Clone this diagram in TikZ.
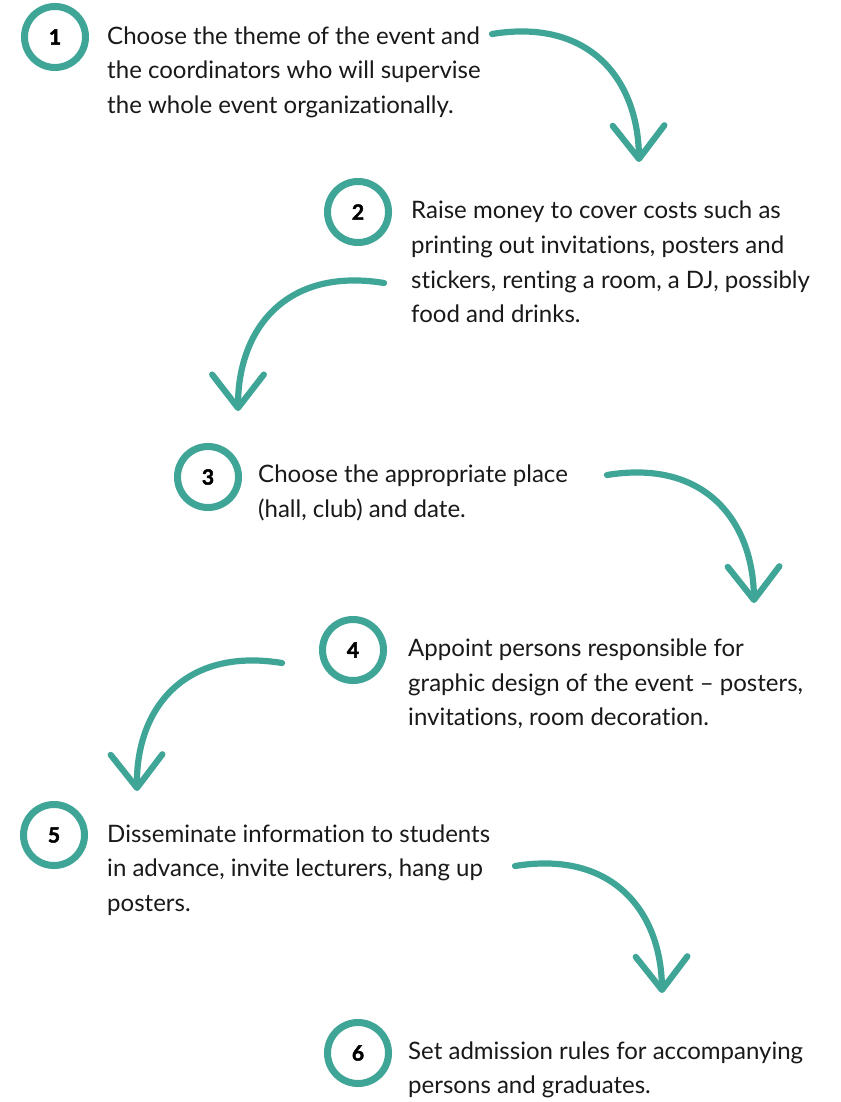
\documentclass[tikz,border=0pt]{standalone}
\usepackage{fontspec}
\setmainfont{Lato}[Ligatures={NoCommon}]
\newfontfamily\numfont{Lato}[BoldFeatures={FakeBold=2}]
\usepackage{xcolor}
\usetikzlibrary{arrows.meta, positioning}

\definecolor{stepteal}{HTML}{3FA597}

\begin{document}
\begin{tikzpicture}[
    x=0.03cm, y=-0.03cm,
    num/.style={circle, draw=stepteal, line width=6pt, minimum size=1.83cm, inner sep=0pt, font=\numfont\fontsize{18}{18}\selectfont\bfseries},
    txt/.style={anchor=west, align=left, inner sep=0pt, text=black!90, font=\fontsize{20.5}{29.5}\selectfont},
    turn/.style={draw=stepteal, line width=5.3pt, line cap=round, -{Straight Barb[length=1cm, width=1.55cm, round]}}
]
    \useasboundingbox (0,0) rectangle (840,1102);

    % numbered steps
    \node[num] (n1) at (55,37) {1};
    \node[num] (n2) at (358,212) {2};
    \node[num] (n3) at (208,477) {3};
    \node[num] (n4) at (353,650) {4};
    \node[num] (n5) at (54,835) {5};
    \node[num] (n6) at (358,1053) {6};

    % texts
    \node[txt] (t1) at (107,72) {Choose the theme of the event and\\the coordinators who will supervise\\the whole event organizationally.};
    \node[txt] (t2) at (411,262) {Raise money to cover costs such as\\printing out invitations, posters and\\stickers, renting a room, a DJ, possibly\\food and drinks.};
    \node[txt] (t3) at (258,493) {Choose the appropriate place\\(hall, club) and date.};
    \node[txt] (t4) at (408,684) {Appoint persons responsible for\\graphic design of the event -- posters,\\invitations, room decoration.};
    \node[txt] (t5) at (107,870) {Disseminate information to students\\in advance, invite lecturers, hang up\\posters.};
    \node[txt] (t6) at (408,1070) {Set admission rules for accompanying\\persons and graduates.};

    % arrow ends
    \coordinate (a1s) at (492,34);  \coordinate (a1e) at (639,162);
    \coordinate (a2s) at (384,283); \coordinate (a2e) at (238,411);
    \coordinate (a3s) at (607,475); \coordinate (a3e) at (754,603);
    \coordinate (a4s) at (282,663); \coordinate (a4e) at (137,791);
    \coordinate (a5s) at (515,866); \coordinate (a5e) at (662,993);

    % curved arrows
    \draw[turn] (a1s) .. controls (590,18) and (638,80) .. (a1e);
    \draw[turn] (a2s) .. controls (286,267) and (238,329) .. (a2e);
    \draw[turn] (a3s) .. controls (705,459) and (753,521) .. (a3e);
    \draw[turn] (a4s) .. controls (184,647) and (136,709) .. (a4e);
    \draw[turn] (a5s) .. controls (613,850) and (661,912) .. (a5e);
\end{tikzpicture}
\end{document}
